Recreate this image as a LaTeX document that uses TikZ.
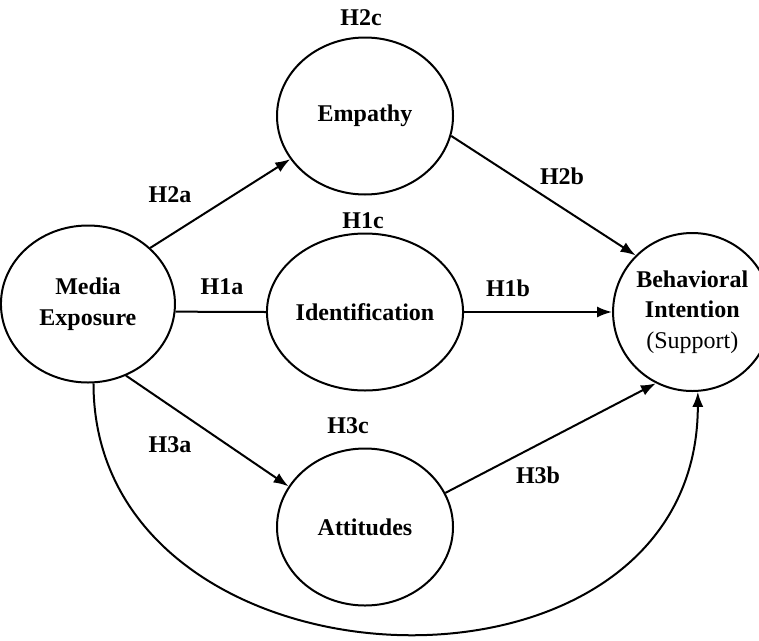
\documentclass[tikz,border=0pt]{standalone}
\usepackage{fontspec}
\setmainfont{Liberation Serif}
\usepackage{tikz}
\usetikzlibrary{positioning,shapes.geometric,arrows.meta}

\tikzset{
	construct/.style={ellipse,draw,line width=2pt,minimum width=176pt,minimum height=157pt,inner sep=0pt,align=center,font=\bfseries\fontsize{24}{30.5}\selectfont},
	hyp/.style={font=\bfseries\fontsize{24}{28}\selectfont,inner sep=0pt}
}

\begin{document}
\begin{tikzpicture}[x=1pt,y=-1pt,->,>={Latex[length=15pt,width=11pt]},line width=2pt]
			\useasboundingbox (0,0) rectangle (759,640);
			\node[construct] (id) at (365,312) {Identification};
			\node[construct] (me) [left=90pt of id,yshift=8pt,minimum width=174pt] {Media\\Exposure};
			\node[construct] (em) [above=37pt of id] {Empathy};
			\node[construct] (at) [below=56pt of id] {Attitudes};
			\node[construct] (bi) [right=148pt of id,minimum width=158pt,minimum height=158pt] {Behavioral\\Intention\\{\mdseries(Support)}};

			\node[hyp] (h2c) at (361,18) {H2c};
			\node[hyp] (h2a) at (170,195) {H2a};
			\node[hyp] (h2b) at (562,176) {H2b};
			\node[hyp] (h1c) at (363,221) {H1c};
			\node[hyp] (h1a) at (222,287) {H1a};
			\node[hyp] (h1b) at (508,288) {H1b};
			\node[hyp] (h3c) at (348,426) {H3c};
			\node[hyp] (h3a) at (170,445) {H3a};
			\node[hyp] (h3b) at (538,475) {H3b};

			\draw 	(me.42) edge (em.210)
					(em.-13) edge (bi.135)
					(me.-5.5) edge[-] (id.west)
					(id.east) edge (bi.west)
					(me.-62) edge (at.152)
					(at.23) edge (bi.243)
					(me.-86) .. controls +(0,320) and +(0,335) .. (bi.-86);
			\end{tikzpicture}
\end{document}
